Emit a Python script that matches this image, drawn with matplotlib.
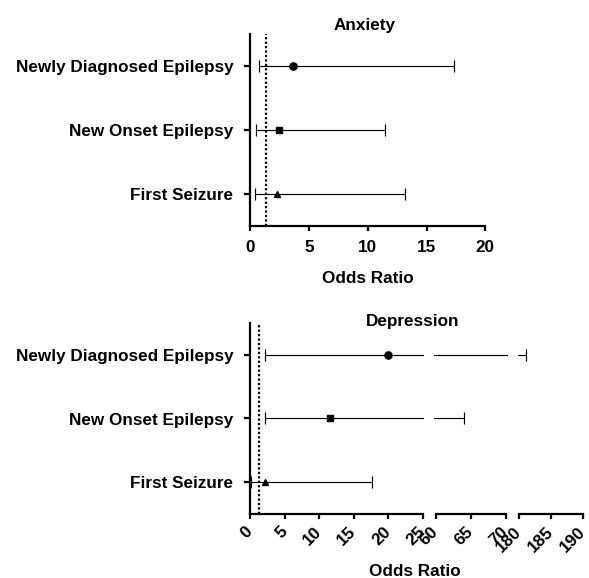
import matplotlib
matplotlib.use("Agg")
import matplotlib.pyplot as plt

plt.rcParams['font.family'] = ['Liberation Sans', 'DejaVu Sans']
plt.rcParams['font.weight'] = 'bold'
FS = 12.3

categories = ["Newly Diagnosed Epilepsy", "New Onset Epilepsy", "First Seizure"]
markers = ["o", "s", "^"]
ref_line = 1.3

anx_or = [3.6, 2.45, 2.3]
anx_lo = [0.75, 0.5, 0.4]
anx_hi = [17.3, 11.5, 13.2]

dep_or = [20.0, 11.6, 2.2]
dep_lo = [2.15, 2.15, 0.1]
dep_hi = [181.0, 64.0, 17.6]

anx_ticks = [0, 5, 10, 15, 20]
dep_segments = [(0, 25), (60, 70), (180, 190)]
dep_ticks = [[0, 5, 10, 15, 20, 25], [60, 65, 70], [180, 185, 190]]

W, H = 589, 578
fig = plt.figure(figsize=(W / 100, H / 100), dpi=100)


def rect(x0, y_top, x1, y_bot):
    return [x0 / W, 1 - y_bot / H, (x1 - x0) / W, (y_bot - y_top) / H]


ypos = [3, 2, 1]
LW_AX = 1.6
msizes = {"o": 5.2, "s": 4.8, "^": 4.6}
ebkw = dict(color='black', elinewidth=0.85, capsize=4.3, capthick=0.85, linestyle='none')
DOT = (0, (1.0, 1.0))


def style(ax, left=True, bounds=None):
    for s in ['top', 'right']:
        ax.spines[s].set_visible(False)
    ax.spines['bottom'].set_linewidth(LW_AX)
    ax.spines['left'].set_linewidth(LW_AX)
    if bounds is not None:
        ax.spines['bottom'].set_bounds(*bounds)
    ax.set_ylim(0.5, 3.5)
    ax.tick_params(axis='x', direction='out', length=3.8, width=LW_AX, labelsize=FS, pad=6)
    if left:
        ax.set_yticks(ypos)
        ax.set_yticklabels(categories, fontsize=FS, fontweight='bold')
        ax.tick_params(axis='y', direction='out', length=4.3, width=LW_AX, pad=8)
    else:
        ax.spines['left'].set_visible(False)
        ax.set_yticks([])
    ax.patch.set_visible(False)


# ---- Anxiety ----
ax1 = fig.add_axes(rect(250.3, 34, 485.3, 226))
ax1.set_xlim(0, 20)
style(ax1)
ax1.set_xticks(anx_ticks)
ax1.set_xticklabels([str(t) for t in anx_ticks], fontweight='bold')
ax1.axvline(ref_line, color='black', lw=1.6, linestyle=DOT)
for y, o, lo, hi, m in zip(ypos, anx_or, anx_lo, anx_hi, markers):
    ax1.errorbar([o], [y], xerr=[[o - lo], [hi - o]], fmt=m, markersize=msizes[m], **ebkw)

# ---- Depression (broken axis) ----
seg_px = [(250.3, 6.896, (0, 25.25)), (436.0, 7.0, (59.7, 70.35)), (519.3, 6.34, (179.8, 190.05))]
dep_axes = []
for i, ((a, b), ticks, (p0, scale, lim)) in enumerate(zip(dep_segments, dep_ticks, seg_px)):
    left_px = p0 + (lim[0] - a) * scale
    right_px = p0 + (lim[1] - a) * scale
    ax = fig.add_axes(rect(left_px, 322.7, right_px, 514.3))
    ax.set_xlim(*lim)
    style(ax, left=(i == 0), bounds=(a, b))
    ax.set_xticks(ticks)
    ax.set_xticklabels([str(t) for t in ticks], rotation=45, ha='right', va='center',
                       rotation_mode='anchor', fontweight='bold')
    ax.tick_params(axis='x', pad=7)
    for y, o, lo, hi, m in zip(ypos, dep_or, dep_lo, dep_hi, markers):
        ax.errorbar([o], [y], xerr=[[o - lo], [hi - o]], fmt=m, markersize=msizes[m], **ebkw)
    if i == 0:
        ax.axvline(ref_line, color='black', lw=1.6, linestyle=DOT)
    dep_axes.append(ax)

# ---- Titles and axis labels ----
fig.text(365 / W, 1 - 30 / H, "Anxiety", ha='center', va='baseline', fontsize=FS, fontweight='bold')
fig.text(367.7 / W, 1 - 283.3 / H, "Odds Ratio", ha='center', va='baseline', fontsize=FS, fontweight='bold')
fig.text(413 / W, 1 - 326 / H, "Depression", ha='center', va='baseline', fontsize=FS, fontweight='bold')
fig.text(415 / W, 1 - 576.5 / H, "Odds Ratio", ha='center', va='baseline', fontsize=FS, fontweight='bold')

fig.savefig("out.png", dpi=100)
